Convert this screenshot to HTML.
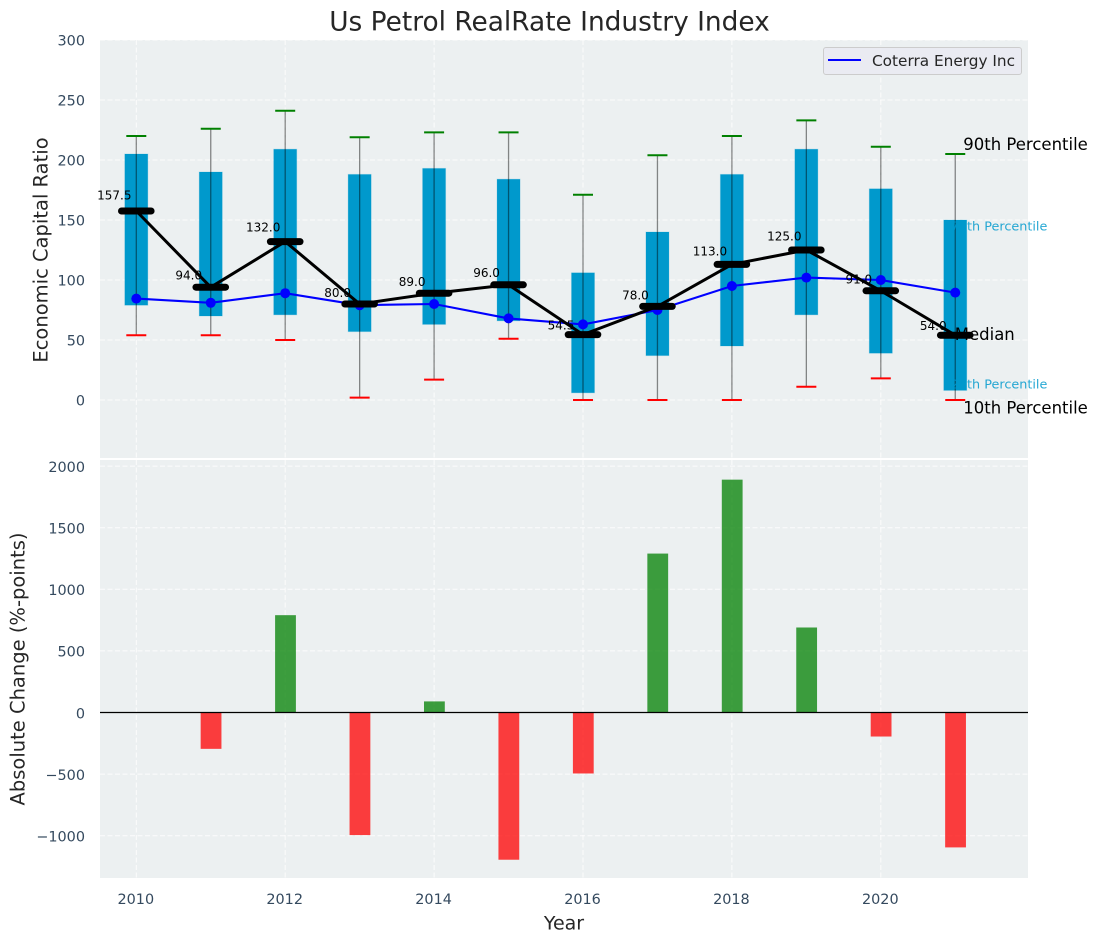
<!DOCTYPE html>
<html lang="en">
<head>
<meta charset="utf-8">
<title>Us Petrol RealRate Industry Index</title>
<style>
html,body{margin:0;padding:0;background:#fff;width:1098px;height:942px;overflow:hidden}
svg{display:block;font-family:"DejaVu Sans","Liberation Sans",sans-serif}
</style>
</head>
<body>
<svg id="chart" xmlns="http://www.w3.org/2000/svg" width="1098" height="942" viewBox="0 0 1098 942"></svg>
<script>
const years = [2010,2011,2012,2013,2014,2015,2016,2017,2018,2019,2020,2021];
const p90 = [220,226,241,219,223,223,171,204,220,233,211,205];
const p75 = [205,190,209,188,193,184,106,140,188,209,176,150];
const medians = [157.5,94,132,80,89,96,54.5,78,113,125,91,54];
const p25 = [79,70,71,57,63,66,6,37,45,71,39,8];
const p10 = [54,54,50,2,17,51,0,0,0,11,18,0];
const companyValues = [84.5,81,89,79,80,68,63,75,95,102,100,89.5];
const absoluteChange = [0,-295,790,-995,90,-1195,-495,1290,1890,690,-195,-1095];
const xTicks = [2010,2012,2014,2016,2018,2020];
const topTicks = [0,50,100,150,200,250,300];
const bottomTicks = [-1000,-500,0,500,1000,1500,2000];

const NS = 'http://www.w3.org/2000/svg';
const svg = document.getElementById('chart');
const L = 100, R = 1028, T1 = 40, B1 = 458, T2 = 460, B2 = 878;
const xScale = y => 136.3 + (y - 2010) * 74.45;
const yTop = v => 400 - 1.2 * v;
const yBottom = v => 712.5 - 0.1232 * v;
const INK = '#34495e', DARK = '#262626';

function make(tag, attrs, text) {
  const el = document.createElementNS(NS, tag);
  for (const k in attrs) el.setAttribute(k, attrs[k]);
  if (text !== undefined) el.textContent = text;
  svg.appendChild(el);
  return el;
}
let el;

el = make('rect', {x:L, y:T1, width:R-L, height:B1-T1, fill:'#ecf0f1'});


el = make('rect', {x:L, y:T2, width:R-L, height:B2-T2, fill:'#ecf0f1'});



const gridStyle = {stroke:'#ffffff', 'stroke-width':1, 'stroke-dasharray':'5 2.5', opacity:0.85};
xTicks.forEach(t => {
  el = make('line', {x1:xScale(t), x2:xScale(t), y1:T1, y2:B1, ...gridStyle});
  
  
  el = make('line', {x1:xScale(t), x2:xScale(t), y1:T2, y2:B2, ...gridStyle});
  
  
  el = make('text', {x:xScale(t)-0.5, y:904, 'text-anchor':'middle', 'font-size':14.4, fill:INK}, String(t));
  
  
});
topTicks.forEach(t => {
  el = make('line', {x1:L, x2:R, y1:yTop(t), y2:yTop(t), ...gridStyle});
  
  
  el = make('text', {x:85, y:yTop(t)+5.3, 'text-anchor':'end', 'font-size':14.4, fill:INK}, String(t));
  
  
});
bottomTicks.forEach(t => {
  el = make('line', {x1:L, x2:R, y1:yBottom(t), y2:yBottom(t), ...gridStyle});
  
  
  el = make('text', {x:85, y:yBottom(t)+5.8, 'text-anchor':'end', 'font-size':14.4, fill:INK}, String(t).replace('-', '\u2212'));
  
  
});

/* percentile boxes */
years.forEach((yr, i) => {
  el = make('rect', {x:xScale(yr)-11.5, y:yTop(p75[i]), width:23, height:yTop(p25[i])-yTop(p75[i]), fill:'#0099cc', stroke:'#0099cc', 'stroke-opacity':0.2, 'stroke-width':1});
  
  
});
/* whiskers and caps */
years.forEach((yr, i) => {
  const cx = xScale(yr);
  el = make('line', {x1:cx, x2:cx, y1:yTop(p90[i]), y2:yTop(p10[i]), stroke:'#000', 'stroke-opacity':0.45, 'stroke-width':1.3});
  
  
  el = make('line', {x1:cx-10, x2:cx+10, y1:yTop(p90[i]), y2:yTop(p90[i]), stroke:'#008000', 'stroke-width':2});
  
  
  el = make('line', {x1:cx-10, x2:cx+10, y1:yTop(p10[i]), y2:yTop(p10[i]), stroke:'#ff0000', 'stroke-width':2});
  
  
});

/* company line */
el = make('polyline', {points:years.map((yr,i) => xScale(yr)+','+yTop(companyValues[i])).join(' '), fill:'none', stroke:'#0000ff', 'stroke-width':2.1});


years.forEach((yr, i) => {
  el = make('circle', {cx:xScale(yr), cy:yTop(companyValues[i]), r:5, fill:'#0000ff'});
  
  
});

/* annotations sit under the median line */
const last = xScale(2021);
el = make('text', {x:last+8, y:yTop(p90[11])-4, 'font-size':16.5, fill:'#000'}, '90th Percentile');


el = make('text', {x:last+8, y:yTop(p10[11])+13.5, 'font-size':16.5, fill:'#000'}, '10th Percentile');


el = make('text', {x:last-0.5, y:yTop(medians[11])+5, 'font-size':16.5, fill:'#000'}, 'Median');


el = make('text', {x:last-4.5, y:yTop(p75[11])+10.5, 'font-size':12.8, fill:'#0099cc', 'fill-opacity':0.85}, '75th Percentile');


el = make('text', {x:last-4.5, y:yTop(p25[11])-2, 'font-size':12.8, fill:'#0099cc', 'fill-opacity':0.85}, '25th Percentile');



/* median line, markers, labels */
el = make('polyline', {points:years.map((yr,i) => xScale(yr)+','+yTop(medians[i])).join(' '), fill:'none', stroke:'#000', 'stroke-width':3});


years.forEach((yr, i) => {
  const cx = xScale(yr), cy = yTop(medians[i]);
  el = make('line', {x1:cx-14.8, x2:cx+14.8, y1:cy, y2:cy, stroke:'#000', 'stroke-width':7, 'stroke-linecap':'round'});
  
  
  el = make('text', {x:cx-22, y:cy-0.06*medians[i]-2, 'text-anchor':'middle', 'font-size':12, fill:'#000'}, medians[i].toFixed(1));
  
  
});

/* legend */
el = make('rect', {x:823.5, y:47.5, width:198, height:27, rx:2.5, fill:'#eaeaf2', 'fill-opacity':0.9, stroke:'#cccccc', 'stroke-width':1});


el = make('line', {x1:828, x2:861, y1:60, y2:60, stroke:'#0000ff', 'stroke-width':2.1});


el = make('text', {x:872, y:66, 'font-size':15.3, fill:DARK}, 'Coterra Energy Inc');



/* change bars */
years.forEach((yr, i) => {
  const v = absoluteChange[i];
  if (v === 0) return;
  const y0 = yBottom(Math.max(v, 0)), y1 = yBottom(Math.min(v, 0));
  el = make('rect', {x:xScale(yr)-10.1, y:y0, width:20.8, height:y1-y0, fill:v > 0 ? '#008000' : '#ff0000', 'fill-opacity':0.75});
  
  
});
el = make('line', {x1:L, x2:R, y1:yBottom(0), y2:yBottom(0), stroke:'#000', 'stroke-width':1.3});



/* titles */
el = make('text', {x:549.5, y:30.5, 'text-anchor':'middle', 'font-size':26.4, fill:DARK}, 'Us Petrol RealRate Industry Index');


el = make('text', {x:564, y:929.5, 'text-anchor':'middle', 'font-size':19, fill:DARK}, 'Year');


el = make('text', {transform:'translate(47.5,250) rotate(-90)', 'text-anchor':'middle', 'font-size':19.5, fill:DARK}, 'Economic Capital Ratio');


el = make('text', {transform:'translate(24.5,669) rotate(-90)', 'text-anchor':'middle', 'font-size':19.5, fill:DARK}, 'Absolute Change (%-points)');


</script>
</body>
</html>
